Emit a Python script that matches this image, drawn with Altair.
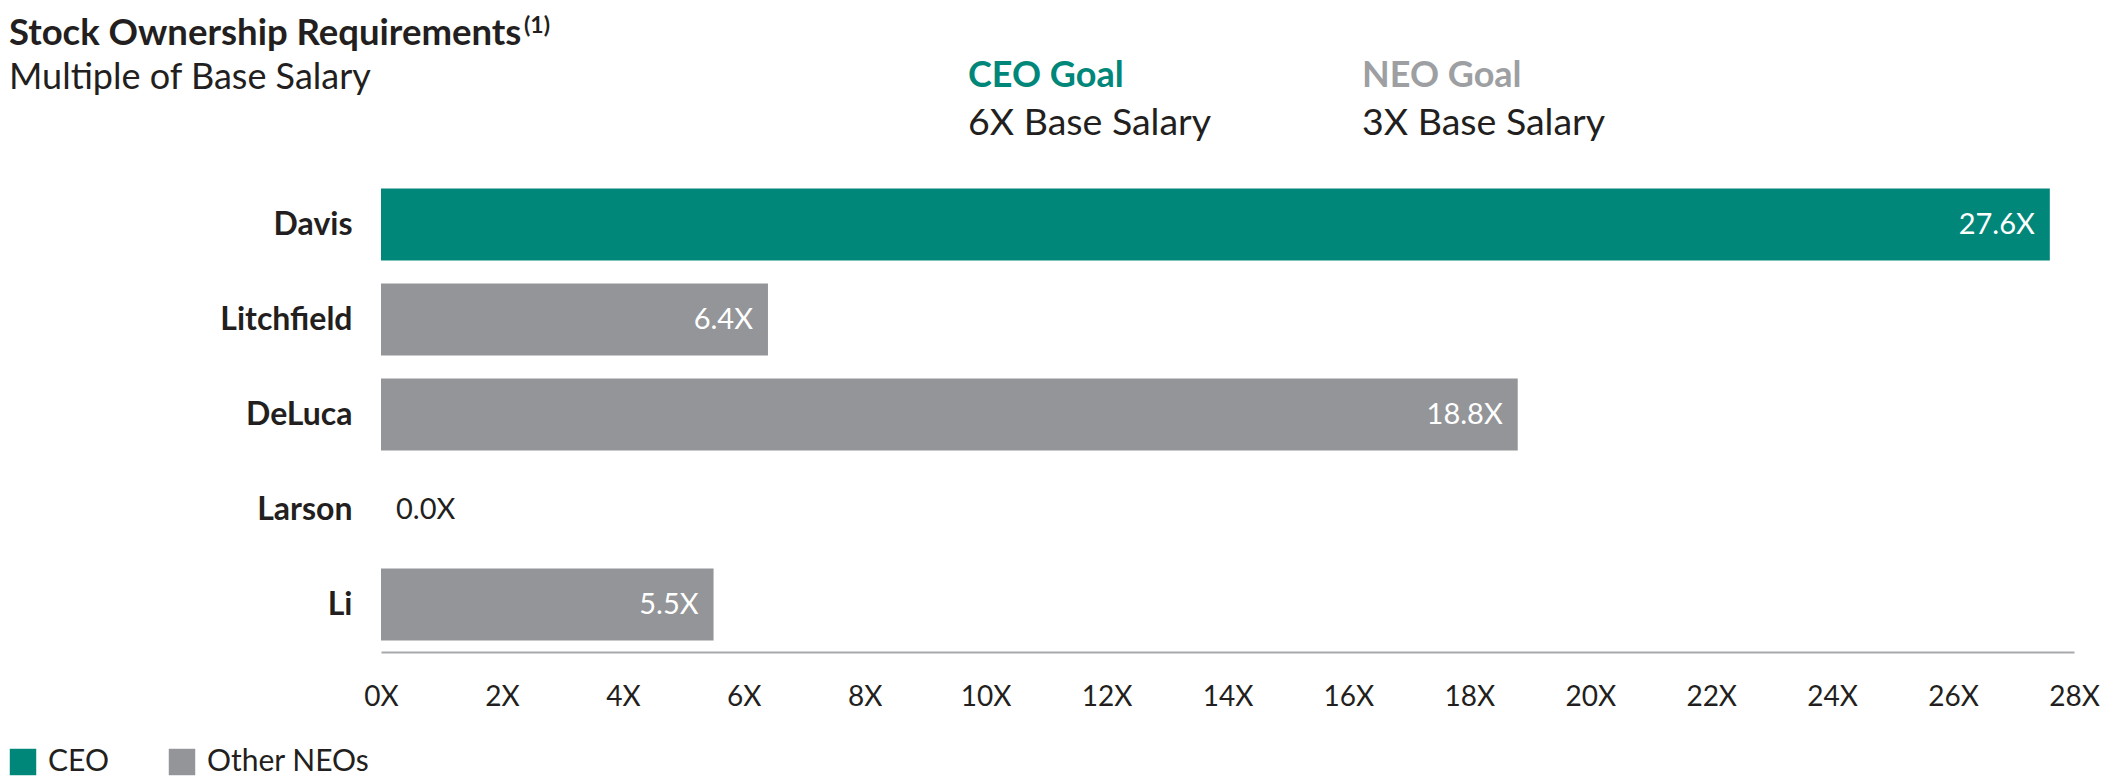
import altair as alt
import pandas as pd

# ---- data ----
names = ["Davis", "Litchfield", "DeLuca", "Larson", "Li"]
multiples = [27.6, 6.4, 18.8, 0.0, 5.5]
roles = ["CEO", "Other NEOs", "Other NEOs", "Other NEOs", "Other NEOs"]
role_domain = ["CEO", "Other NEOs"]
x_ticks = [0, 2, 4, 6, 8, 10, 12, 14, 16, 18, 20, 22, 24, 26, 28]

title_text = "Stock Ownership Requirements"
footnote_text = "(1)"
subtitle_text = "Multiple of Base Salary"
ceo_goal_head = "CEO Goal"
ceo_goal_text = "6X Base Salary"
neo_goal_head = "NEO Goal"
neo_goal_text = "3X Base Salary"

TEAL = "#00877A"
GRAY = "#939598"
LIGHT_GRAY = "#9D9FA2"
AXIS_GRAY = "#A7A9AC"
DARK = "#231F20"
FONT = "Lato"

df = pd.DataFrame({"name": names, "multiple": multiples, "role": roles})
base = alt.Chart(df)

y_enc = alt.Y(
    "name:N",
    sort=names,
    title=None,
    scale=alt.Scale(paddingInner=0.24, paddingOuter=0.12),
    axis=alt.Axis(
        labelFont=FONT, labelFontWeight="bold", labelFontSize=32,
        labelColor=DARK, labelPadding=29, ticks=False, tickSize=0,
        domain=False, grid=False,
    ),
)
x_enc = alt.X(
    "multiple:Q",
    title=None,
    scale=alt.Scale(domain=[0, 28], nice=False, zero=True),
    axis=alt.Axis(
        values=x_ticks, labelExpr="datum.value + 'X'", labelFlush=False,
        labelFont=FONT, labelFontSize=28, labelColor=DARK, labelPadding=31,
        ticks=False, tickSize=0, grid=False,
        domainColor=AXIS_GRAY, domainWidth=2,
    ),
)

bars = base.mark_bar().encode(
    x=x_enc,
    y=y_enc,
    color=alt.Color(
        "role:N",
        scale=alt.Scale(domain=role_domain, range=[TEAL, GRAY]),
        legend=alt.Legend(
            title=None, orient="none", legendX=-373, legendY=570,
            direction="horizontal", symbolType="square", symbolSize=700,
            symbolStrokeWidth=0, symbolOpacity=1, labelFont=FONT,
            labelFontSize=30, labelColor=DARK, labelOffset=10, labelLimit=0,
            columnPadding=58, padding=0,
        ),
    ),
)

inside = base.transform_filter("datum.multiple > 0").transform_calculate(
    lbl="format(datum.multiple, '.1f') + 'X'"
).mark_text(
    align="right", baseline="middle", dx=-15, font=FONT, fontSize=29, color="white"
).encode(x="multiple:Q", y=alt.Y("name:N", sort=names), text="lbl:N")

outside = base.transform_filter("datum.multiple <= 0").transform_calculate(
    lbl="format(datum.multiple, '.1f') + 'X'"
).mark_text(
    align="left", baseline="middle", dx=15, font=FONT, fontSize=29, color=DARK
).encode(x="multiple:Q", y=alt.Y("name:N", sort=names), text="lbl:N")


def note(text, x, y, size, color, weight="normal"):
    return alt.Chart(pd.DataFrame({"t": [text]})).mark_text(
        align="left", baseline="alphabetic", font=FONT, fontSize=size,
        color=color, fontWeight=weight,
    ).encode(x=alt.value(x), y=alt.value(y), text="t:N")


notes = [
    note(title_text, -372, -132, 36.5, DARK, "bold"),
    note(footnote_text, 143, -144, 23, DARK, "bold"),
    note(subtitle_text, -372, -88, 36, DARK),
    note(ceo_goal_head, 587, -90, 36, TEAL, "bold"),
    note(ceo_goal_text, 587, -42, 37.5, DARK),
    note(neo_goal_head, 981, -90, 36, LIGHT_GRAY, "bold"),
    note(neo_goal_text, 981, -42, 37.5, DARK),
]

chart = alt.layer(bars, inside, outside, *notes).properties(
    width=1693,
    height=475,
    padding={"left": 373, "top": 169, "right": 27, "bottom": 124},
    autosize=alt.AutoSizeParams(type="none"),
).configure_view(stroke=None)

chart.save("out.html", embed_options={"renderer": "svg", "actions": False})
